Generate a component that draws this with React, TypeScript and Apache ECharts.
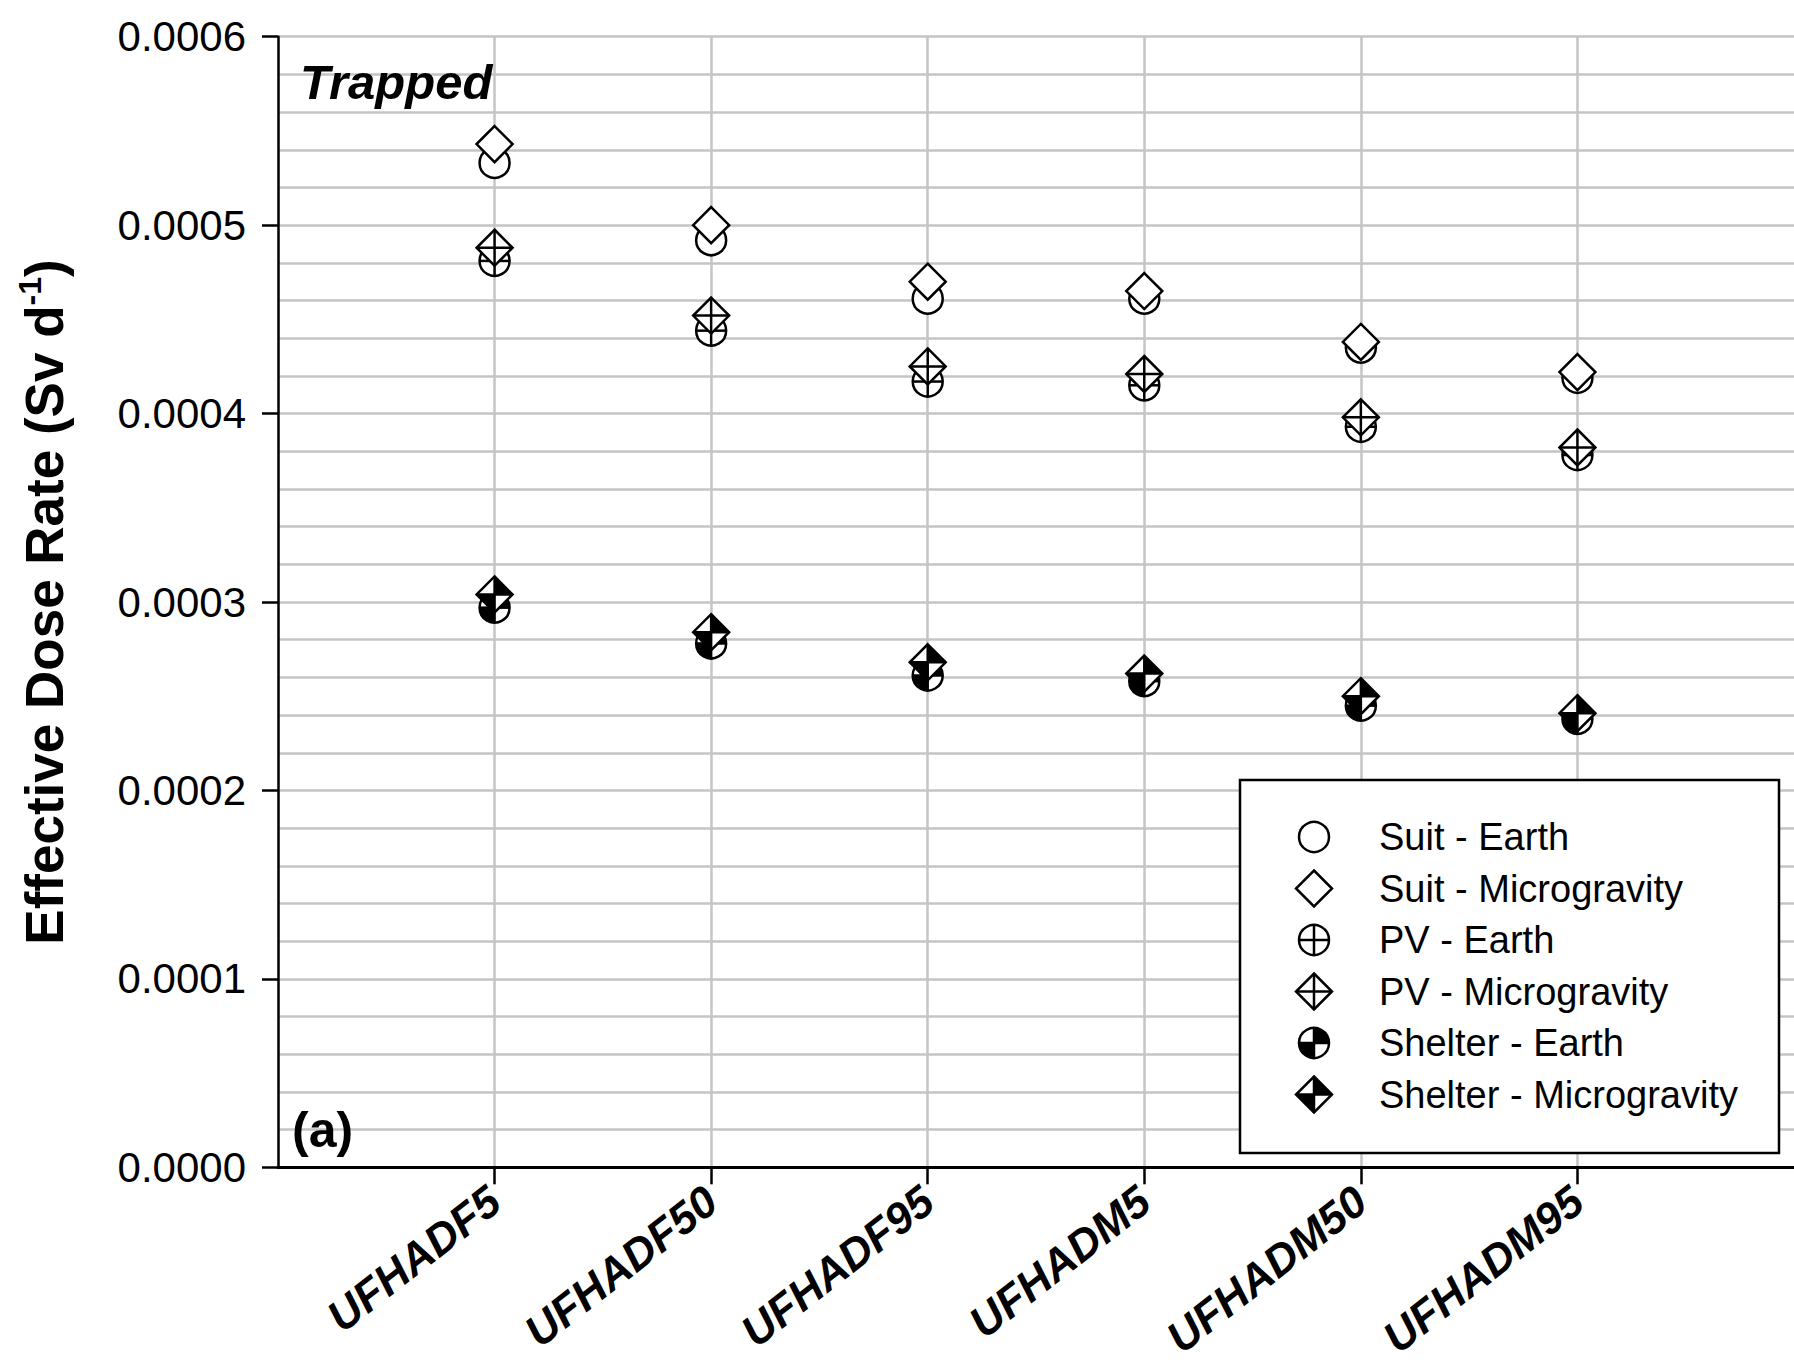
import React, { useEffect, useRef } from "react";
import * as echarts from "echarts";

const categories = ["UFHADF5", "UFHADF50", "UFHADF95", "UFHADM5", "UFHADM50", "UFHADM95"];
const suitEarth = [0.000533, 0.000492, 0.000461, 0.000461, 0.000435, 0.000419];
const suitMicro = [0.000543, 0.0005, 0.00047, 0.000465, 0.000438, 0.000422];
const pvEarth = [0.000481, 0.000444, 0.000417, 0.000415, 0.000393, 0.000378];
const pvMicro = [0.000488, 0.000452, 0.000425, 0.000421, 0.000398, 0.000382];
const shelterEarth = [0.000297, 0.000278, 0.000261, 0.000258, 0.000245, 0.000238];
const shelterMicro = [0.000304, 0.000284, 0.000268, 0.000262, 0.00025, 0.000241];
const yTicks = [0, 0.0001, 0.0002, 0.0003, 0.0004, 0.0005, 0.0006];

const seriesDefs = [
  { name: "Suit - Earth", kind: "circle", values: suitEarth },
  { name: "Suit - Microgravity", kind: "diamond", values: suitMicro },
  { name: "PV - Earth", kind: "circleCross", values: pvEarth },
  { name: "PV - Microgravity", kind: "diamondCross", values: pvMicro },
  { name: "Shelter - Earth", kind: "circleHalf", values: shelterEarth },
  { name: "Shelter - Microgravity", kind: "diamondHalf", values: shelterMicro },
];

const FONT = "'Liberation Sans', Arial, sans-serif";
const LW = 2.5;
const R = 15;
const D = 18;

function drawMarker(kind: string, cx: number, cy: number, z?: number): any[] {
  const els: any[] = [];
  const isCircle = kind.startsWith("circle");
  const stroke = { stroke: "#000", lineWidth: LW };
  if (isCircle) {
    els.push({ type: "circle", shape: { cx, cy, r: R }, style: { fill: "#fff" } });
    if (kind === "circleHalf") {
      els.push({
        type: "sector",
        shape: { cx, cy, r0: 0, r: R, startAngle: -Math.PI / 2, endAngle: 0, clockwise: true },
        style: { fill: "#000" },
      });
      els.push({
        type: "sector",
        shape: { cx, cy, r0: 0, r: R, startAngle: Math.PI / 2, endAngle: Math.PI, clockwise: true },
        style: { fill: "#000" },
      });
    }
    els.push({ type: "circle", shape: { cx, cy, r: R }, style: { fill: "none", ...stroke } });
  } else {
    const pts = [
      [cx, cy - D],
      [cx + D, cy],
      [cx, cy + D],
      [cx - D, cy],
    ];
    els.push({ type: "polygon", shape: { points: pts }, style: { fill: "#fff" } });
    if (kind === "diamondHalf") {
      els.push({
        type: "polygon",
        shape: { points: [[cx, cy], [cx, cy - D], [cx + D, cy]] },
        style: { fill: "#000" },
      });
      els.push({
        type: "polygon",
        shape: { points: [[cx, cy], [cx, cy + D], [cx - D, cy]] },
        style: { fill: "#000" },
      });
    }
    els.push({ type: "polygon", shape: { points: pts }, style: { fill: "none", ...stroke, lineJoin: "miter" } });
  }
  if (kind.endsWith("Cross") || kind.endsWith("Half")) {
    const e = isCircle ? R : D;
    els.push({ type: "line", shape: { x1: cx - e, y1: cy, x2: cx + e, y2: cy }, style: stroke });
    els.push({ type: "line", shape: { x1: cx, y1: cy - e, x2: cx, y2: cy + e }, style: stroke });
  }
  if (z !== undefined) {
    els.forEach((el, i) => {
      el.z = z + 1 + i * 0.01;
    });
  }
  return els;
}

export default function App() {
  const ref = useRef<HTMLDivElement>(null);
  useEffect(() => {
    if (!ref.current) return;
    const chart = echarts.init(ref.current, null, { renderer: "svg" });

    const legendX = 1240;
    const legendY = 780;
    const legendW = 539;
    const legendH = 373;
    const rowY0 = 837;
    const rowStep = 51.5;
    const legendEls: any[] = [
      {
        type: "rect",
        z: 100,
        shape: { x: legendX, y: legendY, width: legendW, height: legendH },
        style: { fill: "#fff", stroke: "#000", lineWidth: 2.5 },
      },
    ];
    seriesDefs.forEach((s, i) => {
      const y = rowY0 + i * rowStep;
      legendEls.push(...drawMarker(s.kind, 1314, y, 100));
      legendEls.push({
        type: "text",
        z: 102,
        x: 1379,
        y,
        style: {
          text: s.name,
          font: `38px ${FONT}`,
          fill: "#000",
          textAlign: "left",
          textVerticalAlign: "middle",
        },
      });
    });

    const option: any = {
      animation: false,
      backgroundColor: "#fff",
      grid: { left: 278, top: 36.7, width: 1520.4, height: 1131 },
      xAxis: {
        type: "value",
        min: 0,
        max: 7,
        interval: 1,
        axisLine: { show: true, onZero: false, lineStyle: { color: "#000", width: 3 } },
        axisTick: {
          show: true,
          customValues: [1, 2, 3, 4, 5, 6],
          length: 17,
          lineStyle: { color: "#000", width: 2.5 },
        },
        axisLabel: {
          customValues: [1, 2, 3, 4, 5, 6],
          formatter: (v: number) => categories[Math.round(v) - 1] ?? "",
          rotate: 38,
          margin: 28,
          fontFamily: FONT,
          fontSize: 44,
          fontWeight: "bold",
          fontStyle: "italic",
          color: "#000",
        },
        splitLine: { show: true, lineStyle: { color: "#c4c4c4", width: 2.5 } },
      },
      yAxis: {
        type: "value",
        min: 0,
        max: 0.0006,
        interval: 0.0001,
        name: "{a|Effective Dose Rate (Sv d}{b|-1}{a|)}",
        nameLocation: "middle",
        nameGap: 204,
        nameTextStyle: {
          rich: {
            a: { fontFamily: FONT, fontSize: 53, fontWeight: "bold", color: "#000", lineHeight: 60 },
            b: { fontFamily: FONT, fontSize: 32, fontWeight: "bold", color: "#000", verticalAlign: "top", lineHeight: 60 },
          },
        },
        axisLine: { show: true, lineStyle: { color: "#000", width: 2.5 } },
        axisTick: { show: true, length: 16, lineStyle: { color: "#000", width: 2.5 } },
        minorTick: { show: false, splitNumber: 5 },
        axisLabel: {
          formatter: (v: number) => v.toFixed(4),
          margin: 32,
          fontFamily: FONT,
          fontSize: 42,
          color: "#000",
          customValues: yTicks,
        },
        splitLine: { show: true, lineStyle: { color: "#c4c4c4", width: 2.5 } },
        minorSplitLine: { show: true, lineStyle: { color: "#c4c4c4", width: 2.5 } },
      },
      series: seriesDefs.map((s) => ({
        type: "custom",
        name: s.name,
        data: s.values.map((v, i) => [i + 1, v]),
        encode: { x: 0, y: 1 },
        clip: false,
        renderItem: (params: any, api: any) => {
          const p = api.coord([api.value(0), api.value(1)]);
          return { type: "group", children: drawMarker(s.kind, p[0], p[1]) };
        },
      })),
      graphic: [
        {
          type: "text",
          x: 300,
          y: 82,
          z: 50,
          style: {
            text: "Trapped",
            font: `italic bold 49px ${FONT}`,
            fill: "#000",
            textVerticalAlign: "middle",
          },
        },
        {
          type: "text",
          x: 292,
          y: 1130,
          z: 50,
          style: {
            text: "(a)",
            font: `bold 50px ${FONT}`,
            fill: "#000",
            textVerticalAlign: "middle",
          },
        },
        ...legendEls,
      ],
    };
    chart.setOption(option);
    return () => chart.dispose();
  }, []);
  return (
    <div
      ref={ref}
      style={{ position: "fixed", left: 0, top: 0, width: 1794, height: 1362, background: "#fff" }}
    />
  );
}
